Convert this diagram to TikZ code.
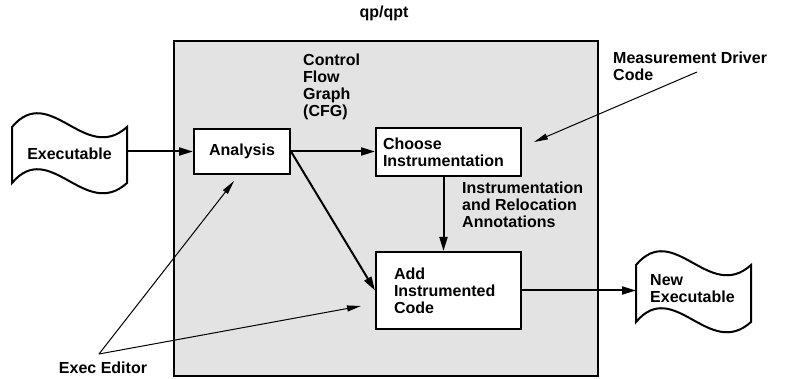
\documentclass[tikz,border=0pt]{standalone}
\usepackage{fontspec}
\setmainfont{Liberation Sans}
\usetikzlibrary{arrows.meta}

\begin{document}
\begin{tikzpicture}[x=1pt,y=-1pt,
  lbl/.style={inner sep=0pt,align=left,font=\fontsize{16}{17.2}\selectfont\bfseries},
  stagebox/.style={draw,fill=white,line width=2pt,inner sep=0pt,font=\fontsize{16}{17.2}\selectfont\bfseries},
  wavedoc/.style={draw,fill=white,line width=2pt},
  flowarrow/.style={line width=2pt,-{Triangle[length=14pt,width=8pt]}},
  notearrow/.style={line width=1pt,-{Triangle[length=14pt,width=6pt]}}]
\path[use as bounding box] (0,0) rectangle (798,379);
\draw[line width=2.2pt,fill=gray!22] (174,41) rectangle (598,376);
\node[lbl] (title) at (384,13) {qp/qpt};
\node[lbl,anchor=west] (cfg) at (303,87) {Control\\Flow\\Graph\\(CFG)};
\node[lbl,anchor=west] (drv) at (613,66.5) {Measurement Driver\\Code};
\node[lbl,anchor=west] (annot) at (462,205) {Instrumentation\\and Relocation\\Annotations};
\node[lbl] (editor) at (103,368) {Exec Editor};
% executables
\draw[wavedoc] (12,127) .. controls (50,82) and (85,165) .. (127,127) -- (127,183) .. controls (85,221) and (50,138) .. (12,183) -- cycle;
\node[lbl,minimum width=115pt] (exe) at (69.5,154) {Executable};
\draw[wavedoc] (636,265) .. controls (674,220) and (709,303) .. (751,265) -- (751,322) .. controls (709,360) and (674,277) .. (636,322) -- cycle;
\node[lbl,anchor=west,inner xsep=14pt] (newexe) at (636,288.5) {New\\Executable};
% stages
\node[stagebox,minimum width=96pt,minimum height=45pt] (ana) at (242,151.5) {Analysis};
\node[stagebox,minimum height=48pt,text width=131pt,inner xsep=7pt,align=left] (choose) at (448.5,152) {Choose\\Instrumentation};
\node[stagebox,minimum height=77pt,text width=109pt,inner xsep=18pt,align=left] (add) at (448.5,290.5) {Add\\Instrumented\\Code};
\coordinate (edsrc) at (99,354);
\coordinate (drvsrc) at (697,72);
% connectors
\draw[flowarrow] (ana.west -| exe.east) -- (ana.west);
\draw[flowarrow] (ana.east) -- (ana.east -| choose.west);
\draw[flowarrow] (ana.east) -- (add.west);
\draw[flowarrow] ([xshift=-5pt]choose.south) -- ([xshift=-5pt]add.north);
\draw[flowarrow] (add.east) -- (add.east -| newexe.west);
\draw[notearrow] (edsrc) -- ([xshift=-8pt,yshift=-6pt]ana.south);
\draw[notearrow] (edsrc) -- ([xshift=-14pt,yshift=-15.5pt]add.west);
\draw[notearrow] (drvsrc) -- ([xshift=12pt,yshift=10pt]choose.east);
\end{tikzpicture}
\end{document}
